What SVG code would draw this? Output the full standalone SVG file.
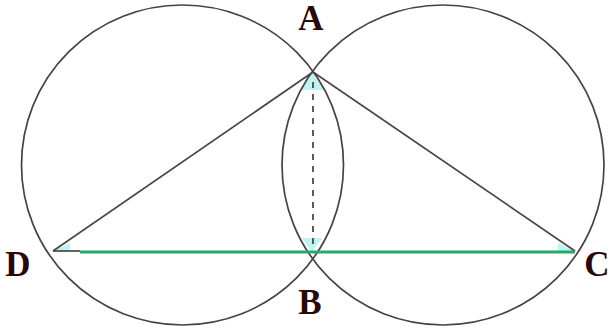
<svg xmlns="http://www.w3.org/2000/svg" width="611" height="332" viewBox="0 0 611 332">
<style>
.c{fill:none;stroke:#4a4242;stroke-width:1.7}
.l{stroke:#4e4444;stroke-width:1.7;fill:none}
.g{stroke:#2aa86a;stroke-width:3}
.d{stroke:#5a4444;stroke-width:1.8;stroke-dasharray:6 6}
.h{fill:#9ff0f0;opacity:0.7}
.t{font-family:"Liberation Serif",serif;font-weight:bold;font-size:35px;fill:#2a0808;text-anchor:middle}
</style>
<rect width="611" height="332" fill="#fff"/>
<g id="highlights">
<polygon class="h" points="313,72 300,90 326,90"/>
<polygon class="h" points="312,252 302,238 322,238"/>
<polygon class="h" points="53,251 70,243 70,251"/>
<polygon class="h" points="575,251 558,243 558,251"/>
</g>
<g id="circle-left"><ellipse class="c" cx="182.5" cy="165" rx="161" ry="160"/></g>
<g id="circle-right"><ellipse class="c" cx="443" cy="165" rx="161" ry="160"/></g>
<g id="connectors">
<line class="l" x1="53" y1="251" x2="313" y2="72"/>
<line class="l" x1="313" y1="72" x2="575" y2="251"/>
<line class="l" x1="53" y1="251" x2="80" y2="251"/>
<line class="g" x1="80" y1="252" x2="575" y2="252"/>
<line class="d" x1="313" y1="82" x2="313" y2="248"/>
</g>
<g id="A"><text class="t" x="311" y="30">A</text></g>
<g id="B"><text class="t" x="310" y="314">B</text></g>
<g id="D"><text class="t" x="18" y="276">D</text></g>
<g id="C"><text class="t" x="597" y="276">C</text></g>
</svg>
